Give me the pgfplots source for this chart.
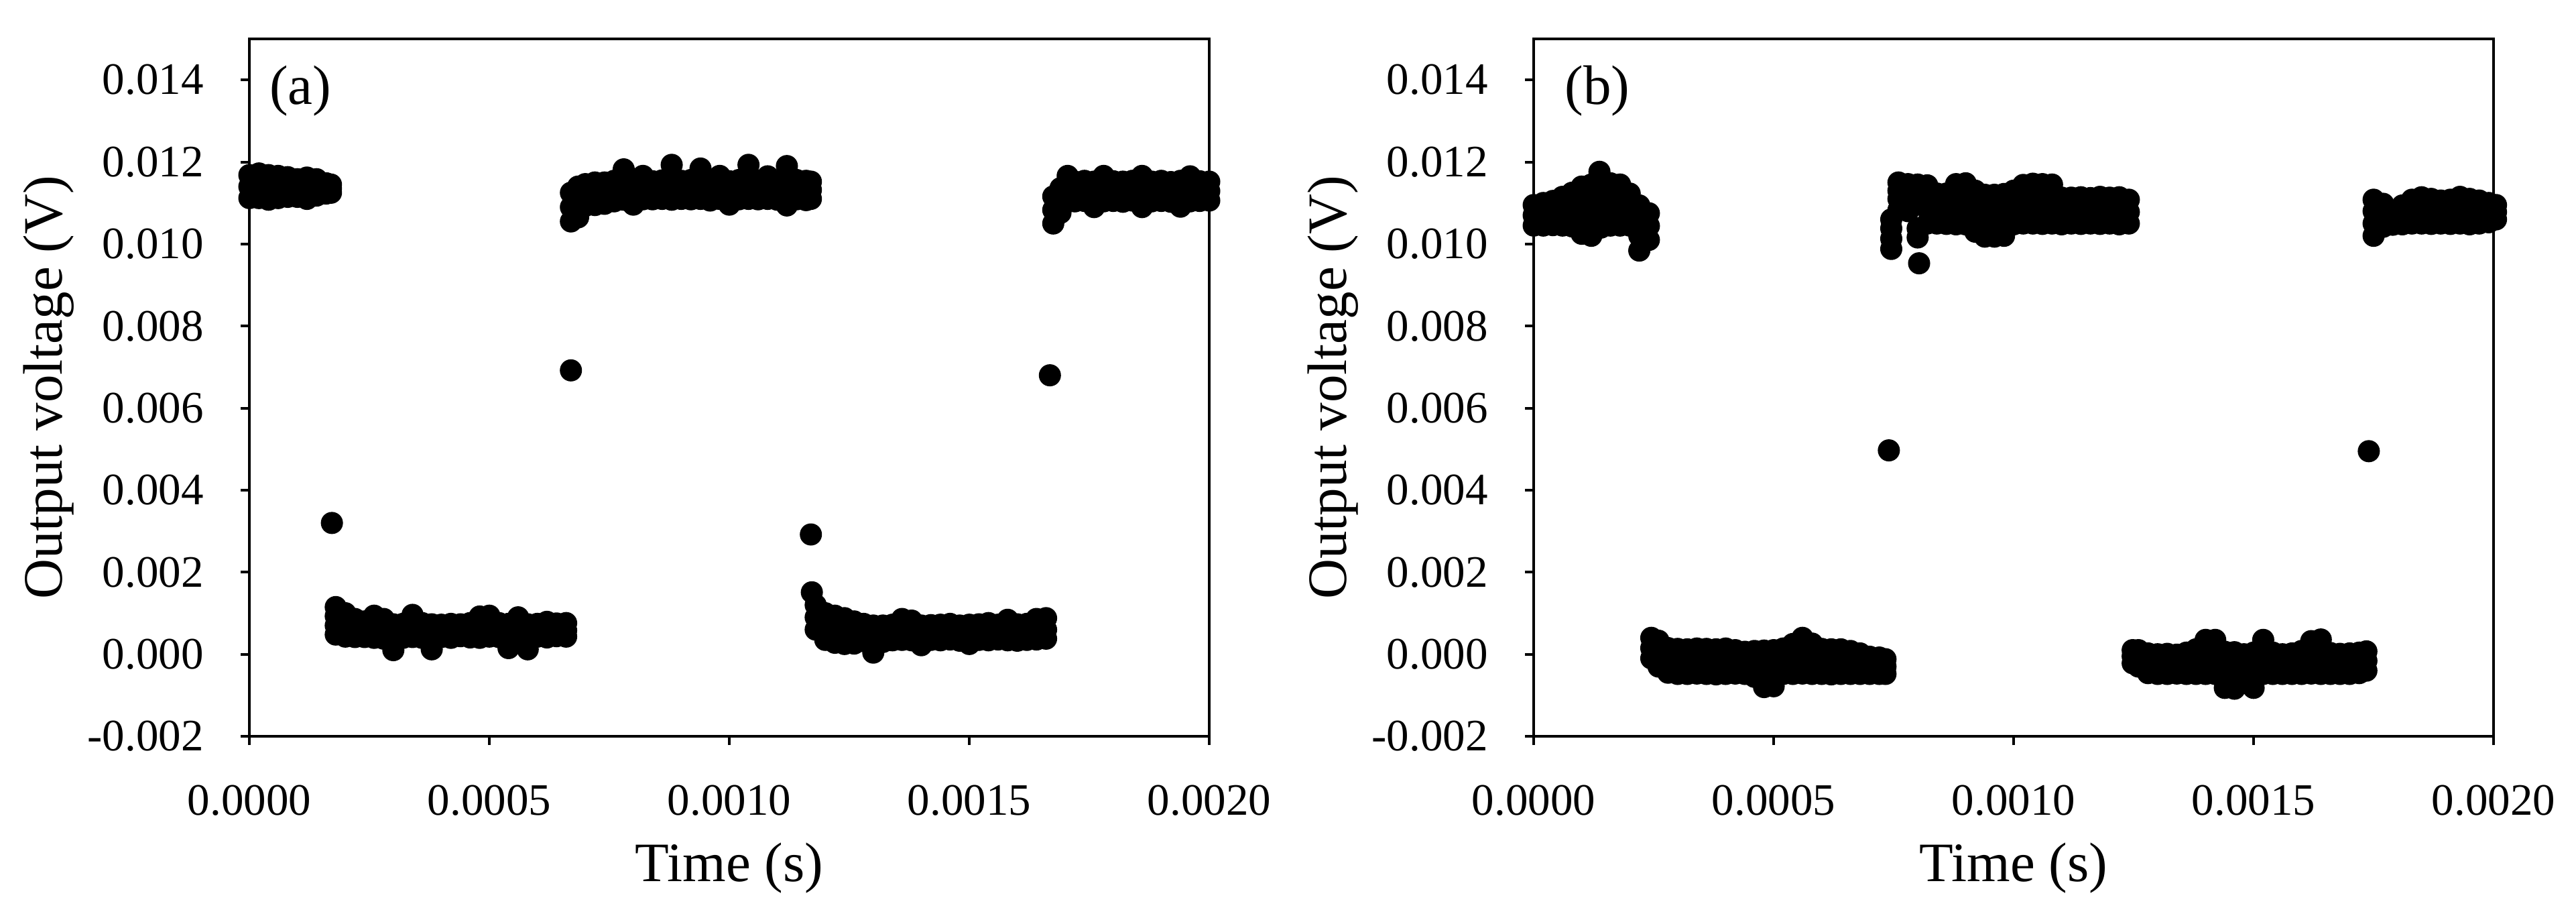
\documentclass[border=0pt]{standalone}
\usepackage{pgfplots}
\usepackage{pgfplotstable}
\pgfplotsset{compat=1.18}
\usepackage{fontspec}
\setmainfont{Liberation Serif}

% time in units of 1e-5 s, voltage in units of 1e-4 V
% columns a..d: stacked rows of the noisy band at each time step
\pgfplotstableread{
t a b c d
0 111.2 114.0 116.8 nan
2 111.2 114.0 117.2 nan
4 110.8 114.0 116.8 nan
6 111.2 114.0 116.6 nan
8 111.5 113.8 116.3 nan
10 111.5 113.8 115.8 nan
12 111.0 113.6 116.2 nan
14 111.8 113.8 115.8 nan
16 112.3 113.6 114.8 nan
17 112.5 113.5 114.5 nan
18 4.8 7.0 11.5 9.3
20 4.3 6.8 10.0 nan
22 4.2 6.2 8.6 nan
24 4.2 5.9 8.0 nan
26 4.0 5.8 9.4 nan
28 3.8 5.7 8.6 nan
30 1.0 4.0 7.3 nan
32 4.0 5.8 7.4 nan
34 4.2 6.0 9.6 nan
36 4.0 5.7 7.6 nan
38 1.2 4.2 7.3 nan
40 4.2 5.7 7.2 nan
42 4.0 5.6 7.4 nan
44 4.4 5.8 7.3 nan
46 4.1 5.7 7.6 nan
48 4.0 6.0 9.2 nan
50 4.3 6.2 9.4 nan
52 4.2 5.8 7.6 nan
54 1.5 4.4 7.4 nan
56 4.0 6.0 9.0 nan
58 1.2 4.2 7.3 nan
60 4.3 5.8 7.4 nan
62 4.1 5.9 7.9 nan
64 4.4 5.9 7.5 nan
66 4.3 5.8 7.6 nan
67 105.5 109.0 112.5 nan
68.5 106.5 110.5 114.0 nan
70 109.3 112.0 114.6 nan
72 109.5 112.2 115.0 nan
74 109.8 112.4 115.0 nan
76 110.4 112.8 115.4 nan
78 110.8 113.0 118.2 115.6
80 109.6 112.6 115.3 nan
82 110.9 113.2 116.6 nan
84 110.9 113.0 115.3 nan
86 111.0 113.1 115.5 nan
88 110.8 113.2 119.3 116.3
90 111.0 113.0 115.4 nan
92 110.9 113.2 115.6 nan
94 111.0 113.4 118.4 116.0
96 110.6 113.0 115.3 nan
98 111.0 113.2 116.6 nan
100 109.6 112.6 115.3 nan
102 110.9 113.0 115.6 nan
104 111.0 113.4 119.3 116.4
106 110.9 113.1 115.4 nan
108 111.0 113.3 116.5 nan
110 110.8 113.0 115.3 nan
112 109.4 112.4 119.0 115.8
114 110.9 113.0 115.6 nan
116 110.7 113.1 115.4 nan
117 111.0 113.2 115.2 nan
118 6.0 9.0 12.0 nan
120 3.5 6.5 10.0 nan
122 2.8 5.9 9.4 nan
124 2.5 5.5 8.8 nan
126 2.6 5.3 8.0 nan
128 3.2 5.2 7.4 nan
130 0.4 3.7 7.0 nan
132 3.0 5.0 7.0 nan
134 3.4 5.2 7.2 nan
136 3.5 5.6 8.6 nan
138 3.4 5.5 8.2 nan
140 2.2 4.6 7.0 nan
142 3.5 5.2 7.1 nan
144 3.4 5.3 7.2 nan
146 3.6 5.4 7.4 nan
148 3.3 5.2 7.0 nan
150 2.5 4.9 7.2 nan
152 3.5 5.3 7.3 nan
154 3.4 5.4 7.6 nan
156 3.6 5.5 7.2 nan
158 3.4 5.6 8.4 nan
160 3.3 5.3 7.3 nan
162 3.5 5.4 7.4 nan
164 3.6 5.8 8.6 nan
166 3.8 6.0 8.8 nan
167.5 105.0 108.3 111.6 nan
169 107.6 110.6 113.6 nan
170.5 110.3 113.0 116.6 nan
172 110.4 112.8 115.2 nan
174 110.5 112.9 115.4 nan
176 109.0 112.0 115.2 nan
178 110.4 113.0 116.6 nan
180 110.5 112.9 115.3 nan
182 110.3 112.8 115.2 nan
184 110.6 113.0 115.4 nan
186 109.0 112.4 116.6 nan
188 110.4 112.8 115.2 nan
190 110.5 112.9 115.4 nan
192 110.3 112.7 115.1 nan
194 109.1 112.3 115.4 nan
196 110.4 113.0 116.5 nan
198 110.5 112.9 115.3 nan
200 110.6 112.9 115.2 nan
}\bandA

\pgfplotstableread{
t v
17.2 32.0
67.0 69.2
117.0 29.2
117.2 15.1
166.8 68.0
}\singleA

\pgfplotstableread{
t a b c d
0 104.5 107.0 109.5 nan
2 104.5 107.0 110.0 nan
4 104.6 107.5 110.5 nan
6 104.5 108.0 111.5 nan
8 104.3 108.4 112.5 nan
10 102.5 106.5 110.3 114.0
12 102.0 106.0 110.0 114.5
14 104.0 107.5 111.0 114.5
16 104.5 108.0 111.5 114.8
18 104.5 108.0 111.5 114.5
20 104.5 108.2 112.3 nan
22 98.4 102.0 105.6 109.4
24 101.0 104.4 107.5 nan
24.5 -1.0 1.5 4.0 nan
26 -3.0 0.0 3.3 nan
28 -4.5 -1.6 1.5 nan
30 -4.8 -1.7 1.3 nan
32 -4.8 -1.8 1.2 nan
34 -4.7 -1.6 1.4 nan
36 -4.8 -1.7 1.3 nan
38 -4.9 -1.8 1.2 nan
40 -4.8 -1.7 1.4 nan
42 -4.7 -1.7 1.0 nan
44 -4.8 -1.9 0.6 nan
46 -5.5 -2.2 0.8 nan
48 -8.0 -4.8 -1.6 0.9
50 -7.8 -4.6 -1.5 1.0
52 -4.8 -1.7 1.4 nan
54 -4.8 -1.5 2.5 nan
56 -4.7 -1.0 4.0 1.3
58 -4.8 -1.5 2.6 nan
60 -4.8 -1.7 1.3 nan
62 -4.9 -1.8 1.2 nan
64 -4.8 -1.7 1.2 nan
66 -4.8 -1.8 0.8 nan
68 -4.8 -2.2 0.2 nan
70 -4.8 -2.5 -0.6 nan
72 -4.8 -2.6 -0.8 nan
73.3 -4.8 -3.0 -1.2 nan
74.5 98.8 101.3 103.8 106.0
76 111.0 113.0 115.0 108.3
78 110.5 112.6 114.6 108.0
80 101.6 103.8 111.0 114.5
82 105.0 108.6 112.0 114.3
84 105.0 108.5 112.3 nan
86 104.9 108.6 112.3 nan
88 104.8 108.4 111.5 114.6
90 104.8 108.4 111.8 114.8
92 103.0 106.5 110.0 113.0
94 101.8 105.2 108.6 112.0
96 101.8 105.3 108.8 112.0
98 102.0 105.5 109.0 112.2
100 104.8 107.8 110.6 113.0
102 105.0 108.2 111.4 114.4
104 105.0 108.3 111.5 114.7
106 104.9 108.1 111.4 114.6
108 105.0 108.2 111.4 114.5
110 104.8 108.0 111.3 nan
112 105.0 108.0 111.3 nan
114 104.9 108.1 111.4 nan
116 105.0 108.0 111.2 nan
118 104.9 108.1 111.5 nan
120 105.0 108.0 111.3 nan
122 104.8 108.1 111.4 nan
124 105.0 107.8 110.8 nan
124.8 -2.2 -0.5 1.0 nan
126 -3.0 -1.0 1.0 nan
128 -4.6 -2.2 0.2 nan
130 -4.8 -2.3 0.0 nan
132 -4.8 -2.4 0.1 nan
134 -4.7 -2.3 -0.1 nan
136 -4.8 -2.2 0.4 nan
138 -4.8 -2.0 1.2 nan
140 -4.8 -2.0 0.5 3.5
142 -4.8 -1.7 1.0 3.5
144 -8.2 -5.2 -2.2 0.6
146 -8.4 -5.4 -2.4 0.5
148 -6.0 -3.0 0.0 nan
150 -8.2 -5.2 -2.2 0.4
152 -4.8 -1.8 0.8 3.5
154 -4.8 -2.0 0.4 nan
156 -4.8 -2.3 0.0 nan
158 -4.8 -2.3 0.2 nan
160 -4.8 -2.0 0.8 nan
162 -4.7 -1.8 0.8 3.2
164 -4.8 -1.6 1.0 3.6
166 -4.8 -2.2 0.3 nan
168 -4.8 -2.3 0.1 nan
170 -4.8 -2.2 0.2 nan
172 -4.6 -2.0 0.4 nan
173.5 -4.0 -1.6 0.7 nan
175 102.0 105.0 108.0 110.8
177 104.2 107.0 109.8 nan
179 104.7 106.6 nan nan
181 104.8 107.0 109.4 nan
183 105.0 108.0 110.8 nan
185 105.0 108.0 111.4 nan
187 104.9 108.0 111.0 nan
189 105.0 107.9 110.6 nan
191 104.9 108.0 110.8 nan
193 105.0 108.1 111.5 nan
195 104.8 108.0 111.0 nan
197 105.0 108.0 110.6 nan
199 105.3 107.8 110.0 nan
200.5 106.0 107.8 109.5 nan
}\bandB

\pgfplotstableread{
t v
13.7 117.6
74.0 49.7
80.3 95.3
174.0 49.5
}\singleB

\pgfplotsset{
  panel/.style={
    scale only axis, width=143.2pt, height=104pt,
    xmin=0, xmax=200, ymin=-20, ymax=150,
    xtick={0,50,100,150,200},
    xticklabels={0.0000,0.0005,0.0010,0.0015,0.0020},
    ytick={-20,0,20,40,60,80,100,120,140},
    yticklabels={-0.002,0.000,0.002,0.004,0.006,0.008,0.010,0.012,0.014},
    tick pos=left, tick align=outside, major tick length=1.3pt,
    axis line style={line width=0.4pt},
    every tick/.style={black, line width=0.4pt},
    tick label style={font=\fontsize{6.7}{7}\selectfont},
    yticklabel style={xshift=-2pt},
    xticklabel style={yshift=-2.5pt},
    label style={font=\fontsize{8.3}{9}\selectfont},
    xlabel={Time (s)}, ylabel={Output voltage (V)},
    xlabel style={at={(axis description cs:0.5,-0.189)}, anchor=center},
    ylabel style={at={(axis description cs:-0.209,0.5)}, anchor=center},
    clip=false,
  },
  dot/.style={only marks, mark=*, mark size=1.45pt, black},
}

\begin{document}
\begin{tikzpicture}
\path[use as bounding box] (0,0) rectangle (384.3pt,136.5pt);

\begin{axis}[panel, at={(37.2pt,26.7pt)}, anchor=south west]
\addplot[dot] table[x=t, y=a] {\bandA};
\addplot[dot] table[x=t, y=b] {\bandA};
\addplot[dot] table[x=t, y=c] {\bandA};
\addplot[dot] table[x=t, y=d] {\bandA};
\addplot[dot] table[x=t, y=v] {\singleA};
\node[anchor=west, inner sep=0pt, font=\fontsize{8.3}{9}\selectfont]
  at (rel axis cs:0.0196,0.925) {(a)};
\end{axis}

\begin{axis}[panel, at={(228.8pt,26.7pt)}, anchor=south west]
\addplot[dot] table[x=t, y=a] {\bandB};
\addplot[dot] table[x=t, y=b] {\bandB};
\addplot[dot] table[x=t, y=c] {\bandB};
\addplot[dot] table[x=t, y=d] {\bandB};
\addplot[dot] table[x=t, y=v] {\singleB};
\node[anchor=west, inner sep=0pt, font=\fontsize{8.3}{9}\selectfont]
  at (rel axis cs:0.031,0.925) {(b)};
\end{axis}
\end{tikzpicture}
\end{document}
